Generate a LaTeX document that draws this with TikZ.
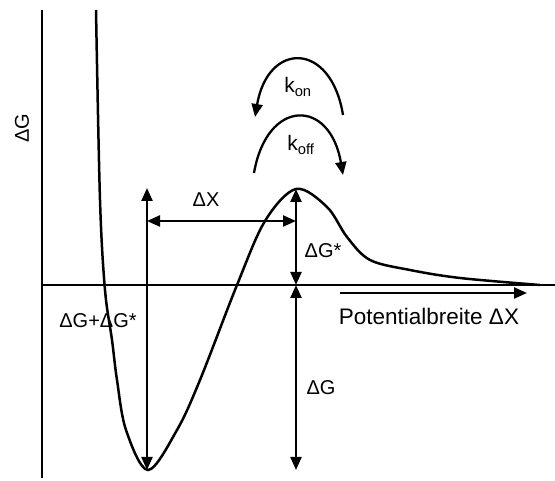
\documentclass[tikz,border=0pt]{standalone}
\usepackage{fontspec}
\setmainfont{Liberation Sans}
\usetikzlibrary{arrows.meta,positioning}

\begin{document}
\begin{tikzpicture}[x=1pt, y=1pt, line width=2.3pt,
    >={Triangle[length=13pt,width=11pt]},
    lbl/.style={font=\fontsize{20}{22}\selectfont, inner sep=1pt},
    curve/.style={line width=2.5pt}]
  \useasboundingbox (0,0) rectangle (555,481);

  % axes
  \coordinate (ytop) at (42,471);
  \coordinate (ybot) at (42,3);
  \coordinate (xleft) at (42,196);
  \coordinate (xright) at (555,196);
  \draw (ybot) -- (ytop);
  \draw (xleft) -- (xright);
  \node[lbl, rotate=90] (yl) at (22,353) {ΔG};

  % potential
  \draw[curve] plot[smooth, tension=0.55] coordinates {
    (96,471) (100,281) (105,191) (112,141) (117,101) (126,51) (148,11)
    (177,51) (200,101) (237,196) (265,260) (296,292) (327,274)
    (347,244) (370,221) (410,211) (460,203) (540,196)};

  % points
  \coordinate (min) at (147,11);
  \coordinate (mintop) at (147,293);
  \coordinate (peak) at (296,292);
  \coordinate (base) at (296,196);
  \coordinate (low) at (296,11);
  \coordinate (dxl) at (147,260);
  \coordinate (dxr) at (296,260);

  % arrows
  \draw[<->] (min) -- (mintop);
  \draw[<->] (dxl) -- (dxr);
  \draw[<->] (base) -- (peak);
  \draw[<->] (base) -- (low);
  \node[lbl] (dx) at (206,281) {ΔX};
  \node[lbl] (dgs) at (323,230) {ΔG*};
  \node[lbl] (dgsum) at (98,160) {ΔG+ΔG*};
  \node[lbl] (dg) at (321,93) {ΔG};

  % Potentialbreite
  \coordinate (pa) at (340,188);
  \coordinate (pb) at (527,188);
  \draw[->] (pa) -- (pb);
  \node[lbl, font=\fontsize{22.5}{24}\selectfont] (pw) at (429,165) {Potentialbreite ΔX};

  % rates
  \coordinate (on1) at (343,366);
  \coordinate (on2) at (255,364);
  \coordinate (off1) at (254,308);
  \coordinate (off2) at (343,306);
  \draw[->] (on1) .. controls (331,440) and (268,440) .. (on2);
  \draw[->] (off1) .. controls (267,383) and (330,383) .. (off2);
  \node[lbl, font=\fontsize{21}{23}\selectfont] (kon) at (298,394) {k\textsubscript{on}};
  \node[lbl, font=\fontsize{21}{23}\selectfont] (koff) at (301,336) {k\textsubscript{off}};
\end{tikzpicture}
\end{document}
